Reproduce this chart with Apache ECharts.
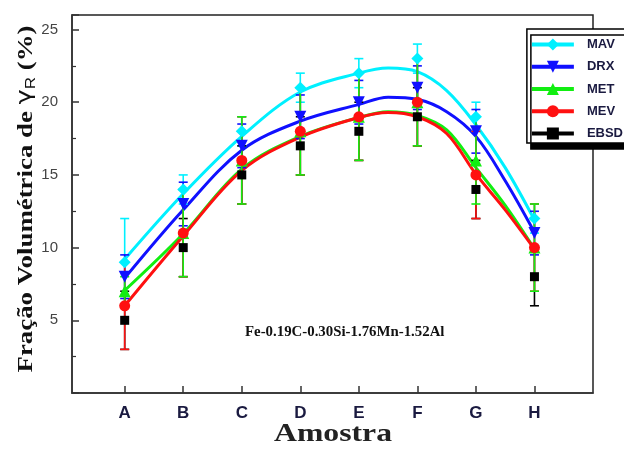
<!DOCTYPE html>
<html><head><meta charset="utf-8">
<script src="https://cdn.jsdelivr.net/npm/echarts@6/dist/echarts.min.js"></script>
<style>html,body{margin:0;padding:0;background:#fff}#c{width:624px;height:450px}</style>
</head><body><div id="c"></div>
<script>
const categories = ['A','B','C','D','E','F','G','H'];
const seriesNames = ['MAV','DRX','MET','MEV','EBSD'];
// measured points
const mav  = [9, 14, 18, 21, 22, 23, 19, 12];
const drx  = [8, 13, 17, 19, 20, 21, 18, 11];
const met  = [7, 11, 16, 18, 19, 20, 16, 10];
const mev  = [6, 11, 16, 18, 19, 20, 15, 10];
const ebsd = [5, 10, 15, 17, 18, 19, 14, 8];
// error half-widths
const mavErr  = [3, 1, 1, 1, 1, 1, 1, 1];
const drxErr  = [1.5, 1.5, 1.5, 1.5, 1.5, 1.5, 1.5, 1.5];
const metErr  = [1, 3, 3, 3, 3, 3, 3, 3];
const mevErr  = [3, 3, 3, 3, 3, 3, 3, 3];
const ebsdErr = [2, 2, 2, 2, 2, 2, 2, 2];
// fitted curves
const fitX   = [1, 2, 3, 4, 5, 5.5, 6, 6.5, 7, 7.5, 8];
const mavFit  = [9.2, 13.7, 17.65, 20.7, 22.0, 22.35, 22.1, 20.8, 18.45, 15.5, 11.9];
const drxFit  = [7.9, 12.6, 16.7, 18.7, 19.85, 20.35, 20.2, 19.35, 17.65, 14.6, 11.05];
const metFit  = [7.05, 10.95, 15.4, 17.65, 18.95, 19.35, 19.1, 18.1, 15.5, 12.9, 9.9];
const mevFit  = [6.0, 10.8, 15.3, 17.6, 18.95, 19.3, 19.0, 17.85, 15.05, 12.6, 9.9];
const yTicks = [5, 10, 15, 20, 25];

const colors = {MAV:'#00f0ff', DRX:'#1010ff', MET:'#11ee11', MEV:'#ff1010', EBSD:'#000000'};
const symbols = {MAV:'diamond', DRX:'path://M0,0 L10,0 L5,9 Z', MET:'triangle', MEV:'circle', EBSD:'rect'};
const symSize = {MAV:12, DRX:12, MET:12, MEV:11, EBSD:9};
const pts = {MAV:mav, DRX:drx, MET:met, MEV:mev, EBSD:ebsd};
const errs = {MAV:mavErr, DRX:drxErr, MET:metErr, MEV:mevErr, EBSD:ebsdErr};
const fits = {MAV:mavFit, DRX:drxFit, MET:metFit, MEV:mevFit};

const series = [];
seriesNames.forEach(n => {
  series.push({
    name: n, type: 'line', smooth: 0.35, showSymbol: false,
    symbol: symbols[n], symbolSize: symSize[n],
    data: fits[n] ? fitX.map((x, i) => [x, fits[n][i]]) : [],
    lineStyle: {color: colors[n], width: 3}, itemStyle: {color: colors[n]},
    z: 2, silent: true
  });
});
const errOrder = ['MAV','DRX','EBSD','MEV','MET'];
errOrder.forEach(n => {
  series.push({
    name: n, type: 'custom', z: 3, silent: true,
    data: pts[n].map((v, i) => [i + 1, v - errs[n][i], v + errs[n][i]]),
    encode: {x: 0, y: [1, 2]},
    renderItem: function (params, api) {
      const lo = api.coord([api.value(0), api.value(1)]);
      const hi = api.coord([api.value(0), api.value(2)]);
      const w = 4.5;
      const st = {stroke: colors[n], lineWidth: 1.6};
      return {type: 'group', children: [
        {type: 'line', shape: {x1: lo[0], y1: lo[1], x2: hi[0], y2: hi[1]}, style: st},
        {type: 'line', shape: {x1: lo[0]-w, y1: lo[1], x2: lo[0]+w, y2: lo[1]}, style: st},
        {type: 'line', shape: {x1: hi[0]-w, y1: hi[1], x2: hi[0]+w, y2: hi[1]}, style: st}
      ]};
    }
  });
});
seriesNames.forEach(n => {
  series.push({
    name: n, type: 'scatter', symbol: symbols[n], symbolSize: symSize[n],
    data: pts[n].map((v, i) => [i + 1, v]),
    itemStyle: {color: colors[n], opacity: 1}, z: 4, silent: true
  });
});

const serif = '"Liberation Serif", "Times New Roman", serif';
const chart = echarts.init(document.getElementById('c'), null, {renderer: 'canvas'});
chart.setOption({
  animation: false,
  backgroundColor: '#ffffff',
  grid: {left: 72, right: 31, top: 15, bottom: 57, show: true, borderColor: '#222', borderWidth: 1.5, backgroundColor: 'transparent'},
  legend: {
    data: seriesNames, orient: 'vertical', right: -1, top: 29,
    itemWidth: 42, itemHeight: 15, itemGap: 9.25,
    padding: [9, 2, 3, 3],
    lineStyle: {width: 4},
    backgroundColor: '#fff', borderColor: '#000', borderWidth: 1.5,
    shadowColor: '#000', shadowOffsetX: 4, shadowOffsetY: 6, shadowBlur: 0,
    textStyle: {fontFamily: 'Liberation Sans, Arial', fontWeight: 'bold', fontSize: 13, color: '#1a1a40', padding: [0, 0, 0, 8]}
  },
  xAxis: {
    type: 'value', min: 0.1, max: 9,
    splitLine: {show: false},
    axisLine: {lineStyle: {color: '#333', width: 1.5}},
    axisTick: {inside: true, length: 7, customValues: categories.map((c, i) => i + 1), lineStyle: {color: '#333', width: 1.5}},
    axisLabel: {customValues: categories.map((c, i) => i + 1), formatter: v => categories[Math.round(v) - 1] || '',
      fontFamily: 'Liberation Sans, Arial', fontWeight: 'bold', fontSize: 17, color: '#1a1a40', margin: 12}
  },
  yAxis: {
    type: 'value', min: 0, max: 26, interval: 5,
    splitLine: {show: false},
    axisLine: {show: true, lineStyle: {color: '#333', width: 1.5}},
    axisTick: {inside: true, length: 7, lineStyle: {color: '#333', width: 1.5}},
    minorTick: {show: true, splitNumber: 2, length: 4, lineStyle: {color: '#333', width: 1.2}},
    axisLabel: {showMinLabel: false, showMaxLabel: false,
      fontFamily: 'Liberation Sans, Arial', fontSize: 15, color: '#444', margin: 14,
      formatter: v => yTicks.indexOf(v) >= 0 ? String(v) : ''}
  },
  graphic: [
    {
      type: 'text', x: 333, y: 447, scaleX: 1.22,
      style: {text: 'Amostra', font: 'bold 26px ' + serif, fill: '#222', align: 'center', verticalAlign: 'bottom'}
    },
    {
      type: 'text', x: 26, y: 199, rotation: Math.PI / 2, scaleX: 1.22,
      style: {
        text: '{a|Fração Volumétrica de }{g|γ}{s|R}{a| (%)}',
        align: 'center', verticalAlign: 'middle',
        rich: {
          a: {font: 'bold 22px ' + serif, fill: '#111'},
          g: {font: '21px "DejaVu Sans"', fill: '#111'},
          s: {font: '14px "Liberation Sans", Arial', fill: '#111', padding: [10, 0, 0, 0]}
        }
      }
    },
    {
      type: 'text', left: 245, top: 325, scaleX: 1.06,
      style: {text: 'Fe-0.19C-0.30Si-1.76Mn-1.52Al', font: 'bold 14px ' + serif, fill: '#111'}
    }
  ],
  series: series
});
</script></body></html>
